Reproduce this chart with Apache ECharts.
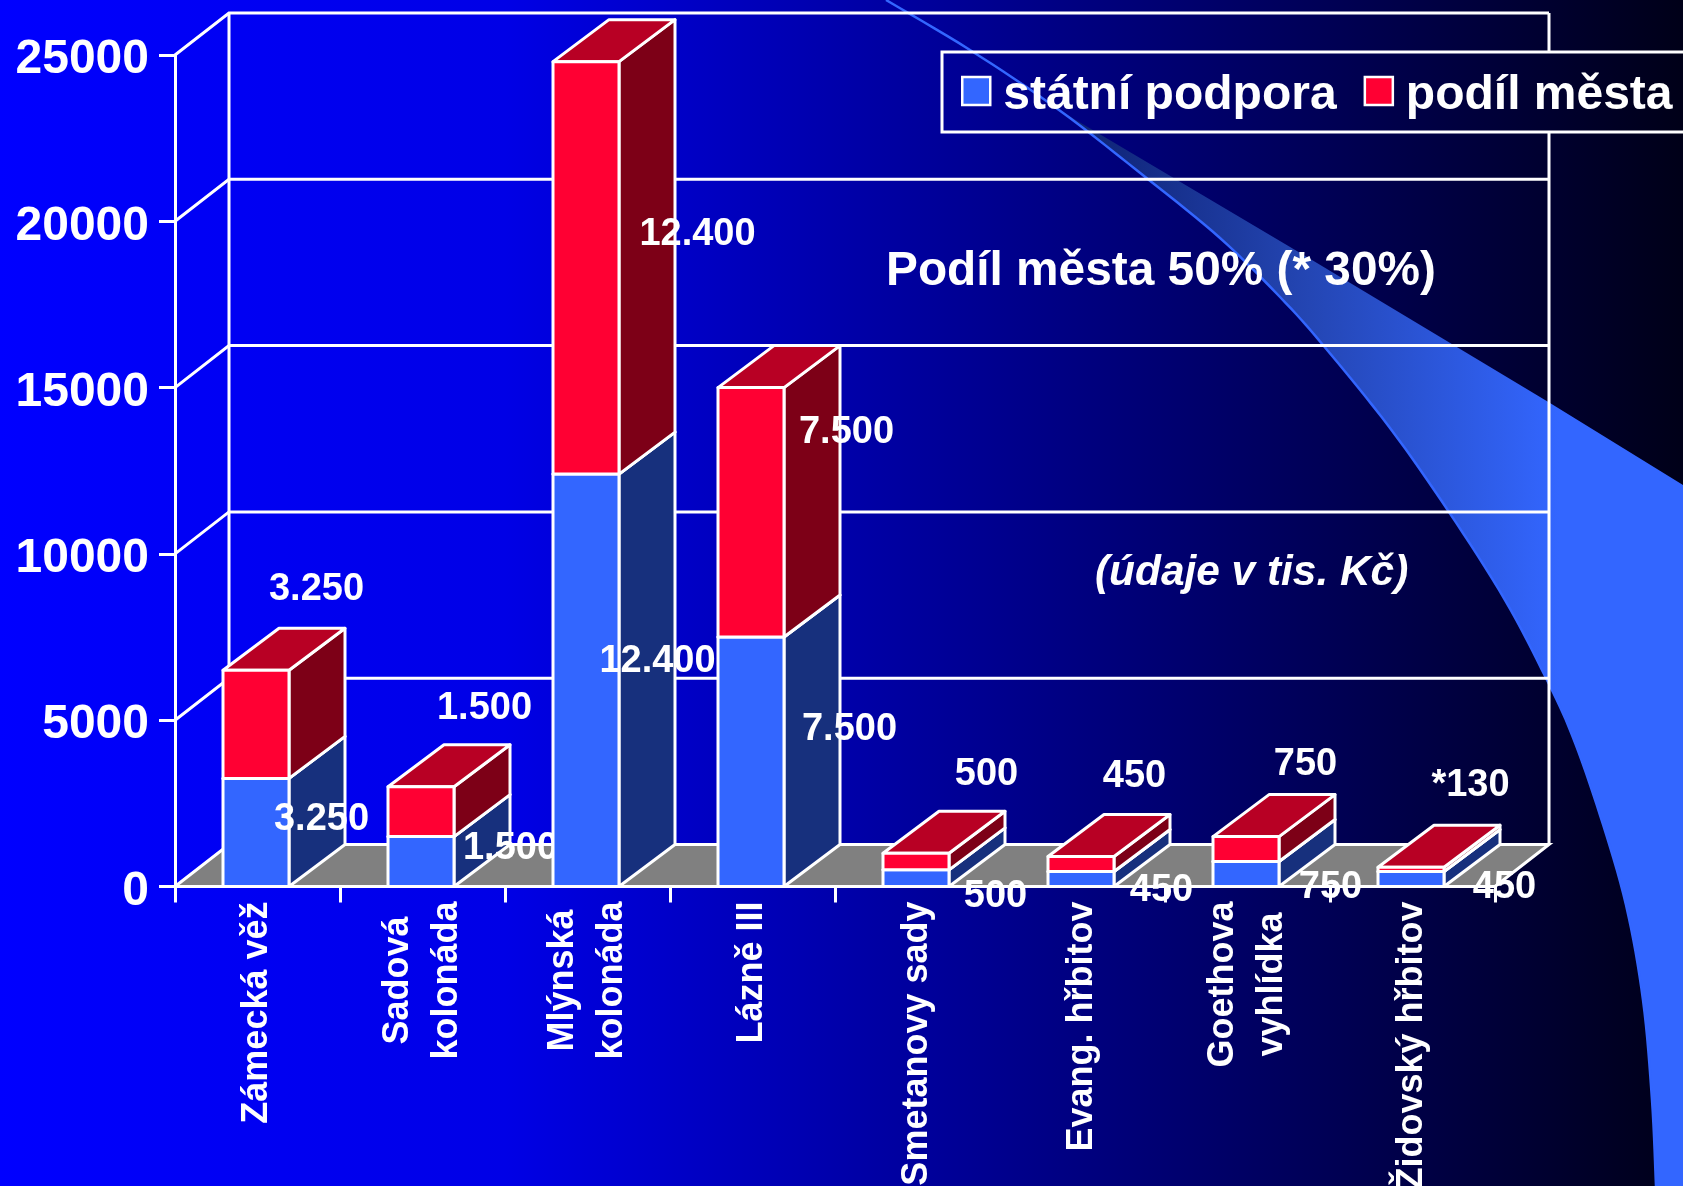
<!DOCTYPE html>
<html>
<head>
<meta charset="utf-8">
<title>Podíl města</title>
<style>
  html, body { margin: 0; padding: 0; background: #000; }
  #chart { width: 1683px; height: 1186px; }
</style>
<script src="https://cdn.jsdelivr.net/npm/echarts@6/dist/echarts.min.js"></script>
</head>
<body>
<div id="chart"></div>
<script>
// data
var categories = ['Zámecká věž', 'Sadová\nkolonáda', 'Mlýnská\nkolonáda', 'Lázně III',
  'Smetanovy sady', 'Evang. hřbitov', 'Goethova\nvyhlídka', 'Židovský hřbitov'];
var statniPodpora = [3250, 1500, 12400, 7500, 500, 450, 750, 450];
var podilMesta = [3250, 1500, 12400, 7500, 500, 450, 750, 130];
var statniLabels = ['3.250', '1.500', '12.400', '7.500', '500', '450', '750', '450'];
var mestoLabels = ['3.250', '1.500', '12.400', '7.500', '500', '450', '750', '*130'];
var yTicks = [0, 5000, 10000, 15000, 20000, 25000];

// layout: label offsets from the top middle of each segment, pixels
var statniLabelOffset = [[64, 41], [88, 12], [70, 187], [97, 92], [78, 27], [79, 19], [83, 26], [92, 16]];
var mestoLabelOffset = [[59, -81], [62, -78], [110, 173], [94, 45], [69, -79], [52, -80], [58, -72], [58, -82]];

var FONT = '"Liberation Sans", Arial, sans-serif';
var WHITE = '#ffffff';
var LINE = 3;
var WALL_DX = 54, WALL_DY = -42;
var BAR_DX = 56, BAR_DY = -42;
var BAR_SHIFT = -1.5;
var LEGEND_TOP = 52, LEGEND_BOTTOM = 131;

// swoosh in the background
var swooshLower = [[886, 0], [970, 50], [1059, 110], [1149, 180], [1220, 238], [1280, 297], [1323, 345],
  [1390, 428], [1449, 512], [1505, 600], [1546, 678], [1572, 735], [1600, 815], [1626, 905], [1643, 1000], [1652, 1100], [1656, 1186]];
var swooshUpper = [[1683, 1186], [1683, 485], [1550, 403], [1312, 260], [1059, 110]];

// catmull-rom through the hand picked points, so the edge has no corners
function densify(points) {
  var out = [];
  for (var i = 0; i < points.length - 1; i++) {
    var p0 = points[Math.max(i - 1, 0)], p1 = points[i], p2 = points[i + 1];
    var p3 = points[Math.min(i + 2, points.length - 1)];
    for (var t = 0; t < 1; t += 0.125) {
      var t2 = t * t, t3 = t2 * t;
      out.push([0, 1].map(function (k) {
        return 0.5 * (2 * p1[k] + (p2[k] - p0[k]) * t + (2 * p0[k] - 5 * p1[k] + 4 * p2[k] - p3[k]) * t2 +
          (3 * p1[k] - p0[k] - 3 * p2[k] + p3[k]) * t3);
      }));
    }
  }
  out.push(points[points.length - 1]);
  return out;
}

function stacked(values, base) {
  return values.map(function (v, i) { return [i, v, base ? base[i] : 0]; });
}

// one stack segment with its three faces and its value label
function boxRenderer(colors, labels, offsets) {
  return function (params, api) {
    var i = api.value(0), val = api.value(1), base = api.value(2);
    var top = api.coord([i, base + val]);
    var bottom = api.coord([i, base]);
    var half = api.size([1, 0])[0] * 0.2;
    var l = top[0] + BAR_SHIFT - half, r = top[0] + BAR_SHIFT + half;
    function poly(points, fill) {
      return {
        type: 'polygon',
        shape: { points: points },
        style: { fill: fill, stroke: WHITE, lineWidth: LINE, lineJoin: 'round' }
      };
    }
    return {
      type: 'group',
      children: [
        poly([[r, top[1]], [r + BAR_DX, top[1] + BAR_DY], [r + BAR_DX, bottom[1] + BAR_DY], [r, bottom[1]]], colors.side),
        poly([[l, top[1]], [l + BAR_DX, top[1] + BAR_DY], [r + BAR_DX, top[1] + BAR_DY], [r, top[1]]], colors.top),
        poly([[l, top[1]], [r, top[1]], [r, bottom[1]], [l, bottom[1]]], colors.front),
        {
          type: 'text',
          style: {
            x: top[0] + offsets[i][0],
            y: top[1] + offsets[i][1],
            text: labels[i],
            fill: WHITE,
            font: 'bold 38px ' + FONT,
            align: 'center',
            verticalAlign: 'middle'
          }
        }
      ]
    };
  };
}

// back wall, side wall and floor
function wallRenderer(params, api) {
  var sys = params.coordSys;
  var x0 = sys.x, x1 = sys.x + sys.width;
  var tick = api.value(1);
  var y = api.coord([0, tick])[1];
  var children = [];
  var lineStyle = { stroke: WHITE, lineWidth: LINE, fill: null };
  function segment(points) {
    children.push({ type: 'polyline', shape: { points: points }, style: lineStyle });
  }
  if (tick === 0) {
    children.push({
      type: 'polygon',
      shape: { points: [[x0, y], [x0 + WALL_DX, y + WALL_DY], [x1 + WALL_DX, y + WALL_DY], [x1, y]] },
      style: { fill: '#808080', stroke: WHITE, lineWidth: LINE }
    });
    segment([[x0 + WALL_DX, y + WALL_DY], [x0 + WALL_DX, sys.y + WALL_DY]]);
    // the right edge stops behind the legend box
    segment([[x1 + WALL_DX, y + WALL_DY], [x1 + WALL_DX, LEGEND_BOTTOM]]);
    segment([[x1 + WALL_DX, LEGEND_TOP], [x1 + WALL_DX, sys.y + WALL_DY]]);
  } else {
    segment([[x0, y], [x0 + WALL_DX, y + WALL_DY], [x1 + WALL_DX, y + WALL_DY]]);
  }
  return { type: 'group', children: children };
}

var lineRich = { color: WHITE, fontFamily: FONT, fontWeight: 'bold', fontSize: 36, lineHeight: 49 };
function padded(right) {
  return Object.assign({}, lineRich, { padding: [0, right, 0, 0] });
}
var shortLines = { 'Sadová': 'pad15', 'Mlýnská': 'pad8', 'vyhlídka': 'pad11' };

var chart = echarts.init(document.getElementById('chart'));
var blue = { front: '#3366ff', side: '#17307d', top: '#17307d' };
var red = { front: '#ff0033', side: '#7d0017', top: '#b80024' };
var swooshEdge = densify(swooshLower);

chart.setOption({
  animation: false,
  backgroundColor: {
    type: 'linear', x: 0, y: 0, x2: 1, y2: 0,
    colorStops: [
      { offset: 0, color: '#0000ff' },
      { offset: 0.3, color: '#0000e6' },
      { offset: 0.6, color: '#00008c' },
      { offset: 1, color: '#000018' }
    ]
  },
  grid: { left: 175, right: 188, top: 55, bottom: 299.5, outerBoundsMode: 'none' },
  legend: {
    data: [
      { name: 'státní podpora', itemStyle: { color: blue.front } },
      { name: 'podíl města', itemStyle: { color: red.front } }
    ],
    left: 942,
    top: LEGEND_TOP,
    width: 780,
    padding: [20, 30, 12, 19],
    orient: 'horizontal',
    icon: 'rect',
    itemWidth: 28,
    itemHeight: 28,
    itemGap: 27,
    itemStyle: { borderColor: WHITE, borderWidth: 2.5 },
    borderColor: WHITE,
    borderWidth: 3,
    selectedMode: false,
    formatter: '{n|{name}}',
    textStyle: {
      rich: { n: { color: WHITE, fontFamily: FONT, fontWeight: 'bold', fontSize: 48, padding: [10, 0, 0, 8] } }
    }
  },
  xAxis: {
    type: 'category',
    data: categories,
    boundaryGap: true,
    axisLine: { show: true, lineStyle: { color: WHITE, width: LINE } },
    axisTick: { show: true, length: 16, lineStyle: { color: WHITE, width: LINE } },
    axisLabel: {
      interval: 0,
      rotate: 90,
      margin: 15,
      formatter: function (value) {
        return value.split('\n').map(function (line) {
          return '{' + (shortLines[line] || 'line') + '|' + line + '}';
        }).join('\n');
      },
      rich: { line: lineRich, pad8: padded(8), pad11: padded(11), pad15: padded(15) }
    }
  },
  yAxis: {
    type: 'value',
    min: 0,
    max: 25000,
    interval: 5000,
    axisLine: { show: true, lineStyle: { color: WHITE, width: LINE } },
    axisTick: { show: true, length: 16, lineStyle: { color: WHITE, width: LINE } },
    splitLine: { show: false },
    axisLabel: {
      margin: 26,
      formatter: function (v) { return '{n|' + v + '}'; },
      rich: { n: { color: WHITE, fontFamily: FONT, fontWeight: 'bold', fontSize: 48, padding: [10, 0, 0, 0] } }
    }
  },
  graphic: [
    {
      type: 'polygon',
      z: -2,
      silent: true,
      shape: { points: swooshEdge.slice(16).concat(swooshUpper.slice(0, -1)) },
      style: {
        fill: {
          type: 'linear', x: 1059, y: 0, x2: 1560, y2: 0, global: true,
          colorStops: [
            { offset: 0, color: '#0c1f6e' },
            { offset: 0.5, color: '#2446b4' },
            { offset: 1, color: '#3366ff' }
          ]
        }
      }
    },
    {
      type: 'polyline',
      z: -1,
      silent: true,
      shape: { points: swooshEdge },
      style: { stroke: '#3366ff', lineWidth: 2.5, fill: null }
    },
    {
      type: 'text', z: 10, x: 886, y: 272, silent: true,
      style: {
        text: 'Podíl města 50% (* 30%)', fill: WHITE, font: 'bold 47.8px ' + FONT,
        align: 'left', verticalAlign: 'middle'
      }
    },
    {
      type: 'text', z: 10, x: 1095, y: 573, silent: true,
      style: {
        text: '(údaje v tis. Kč)', fill: WHITE, font: 'italic bold 42.4px ' + FONT,
        align: 'left', verticalAlign: 'middle'
      }
    }
  ],
  series: [
    {
      name: 'wall',
      type: 'custom',
      z: 1,
      silent: true,
      clip: false,
      data: yTicks.map(function (t) { return [0, t]; }),
      encode: { x: 0, y: 1 },
      renderItem: wallRenderer
    },
    {
      name: 'státní podpora',
      type: 'custom',
      z: 3,
      clip: false,
      itemStyle: { color: blue.front },
      data: stacked(statniPodpora),
      encode: { x: 0, y: 1 },
      renderItem: boxRenderer(blue, statniLabels, statniLabelOffset)
    },
    {
      name: 'podíl města',
      type: 'custom',
      z: 4,
      clip: false,
      itemStyle: { color: red.front },
      data: stacked(podilMesta, statniPodpora),
      encode: { x: 0, y: 1 },
      renderItem: boxRenderer(red, mestoLabels, mestoLabelOffset)
    }
  ]
});
</script>
</body>
</html>
